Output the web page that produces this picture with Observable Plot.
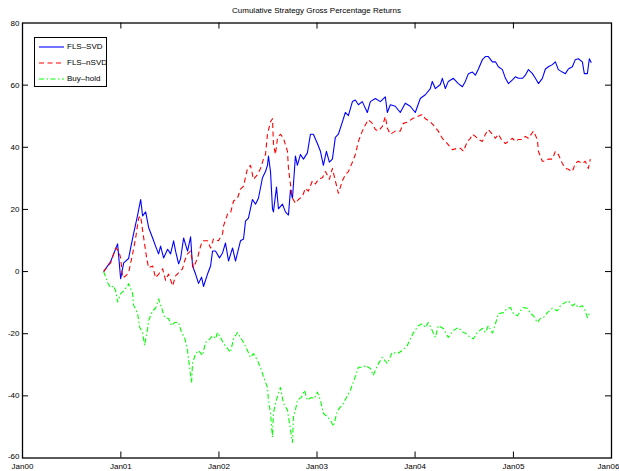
<!DOCTYPE html>
<html>
<head>
<meta charset="utf-8">
<script src="https://cdn.jsdelivr.net/npm/d3@7"></script>
<script src="https://cdn.jsdelivr.net/npm/@observablehq/plot@0.6"></script>
<style>
  body { margin: 0; background: #fff; }
  #wrap { position: relative; width: 619px; height: 471px; font-family: "Liberation Sans", Arial, sans-serif; color: #000; }
  #title { height: 21px; line-height: 21px; margin-left: 22px; width: 589px; text-align: center; font-size: 8px; white-space: nowrap; }
  #legend { position: absolute; left: 34px; top: 37px; width: 71px; height: 47px; border: 1px solid #000; background: #fff; padding-top: 1px; }
  #legend .row { height: 16px; line-height: 16px; font-size: 8px; display: flex; align-items: center; white-space: nowrap; }
  #legend svg { margin-left: 4px; margin-right: 3px; flex: none; }
</style>
</head>
<body>
<div id="wrap">
  <div id="title"></div>
  <div id="chart"></div>
  <div id="legend"></div>
</div>
<script>
// ---------- data (decimal year, cumulative % return) ----------
const titleText = "Cumulative Strategy Gross Percentage Returns";
const seriesNames = ["FLS\u2013SVD", "FLS\u2013nSVD", "Buy\u2013hold"];
const seriesColors = ["#0000ff", "#ff0000", "#00ff00"];
const seriesDashes = [null, "5,3.5", "5,2.5,1.5,2.5"];
const xTickYears = [2000, 2001, 2002, 2003, 2004, 2005, 2006];
const yTicks = [-60, -40, -20, 0, 20, 40, 60, 80];

const flsSvd = [
[2000.825,0],[2000.896,3.2],[2000.967,8.9],[2000.998,-2.3],[2001.029,2.8],[2001.079,4.2],[2001.100,7.6],
[2001.130,12.2],[2001.171,18.2],[2001.202,23.2],[2001.222,17.9],[2001.253,19.2],[2001.283,14.2],[2001.324,10.8],
[2001.354,8.2],[2001.385,5.7],[2001.405,8.2],[2001.436,4.4],[2001.477,7.2],[2001.507,5.7],[2001.538,9.9],
[2001.558,6.6],[2001.589,2.5],[2001.609,4.1],[2001.640,10.8],[2001.680,6.6],[2001.711,11.2],[2001.731,1.8],
[2001.762,-0.8],[2001.792,-3.8],[2001.823,-1.8],[2001.843,-4.8],[2001.884,-0.8],[2001.915,1.8],[2001.935,6.6],
[2001.965,6.6],[2002.006,4.4],[2002.037,6.0],[2002.067,9.2],[2002.098,3.4],[2002.139,7.6],[2002.169,3.4],
[2002.220,9.9],[2002.251,10.5],[2002.271,16.2],[2002.301,17.2],[2002.342,23.2],[2002.373,21.7],[2002.403,23.6],
[2002.444,30.2],[2002.475,32.2],[2002.495,34.2],[2002.505,37.2],[2002.526,32.2],[2002.546,20.2],[2002.556,19.2],
[2002.587,27.2],[2002.607,20.2],[2002.648,21.7],[2002.678,19.2],[2002.709,18.2],[2002.729,26.2],[2002.750,23.6],
[2002.780,37.2],[2002.800,34.2],[2002.831,37.7],[2002.862,36.2],[2002.902,38.2],[2002.933,44.2],[2002.963,44.2],
[2003.004,41.2],[2003.035,38.7],[2003.065,34.2],[2003.096,38.7],[2003.126,35.2],[2003.157,36.2],[2003.187,43.2],
[2003.218,44.2],[2003.259,48.2],[2003.289,51.2],[2003.320,50.2],[2003.361,54.7],[2003.391,55.2],[2003.422,53.7],
[2003.462,54.7],[2003.513,51.2],[2003.544,54.7],[2003.595,55.7],[2003.646,54.7],[2003.697,56.2],[2003.717,51.2],
[2003.748,53.7],[2003.798,53.2],[2003.849,51.2],[2003.900,54.2],[2003.951,53.2],[2004.002,51.2],[2004.053,55.7],
[2004.104,56.9],[2004.155,58.9],[2004.175,61.2],[2004.206,58.9],[2004.257,60.2],[2004.277,62.2],[2004.308,58.9],
[2004.338,61.2],[2004.389,62.2],[2004.440,60.5],[2004.481,59.5],[2004.511,61.2],[2004.542,63.7],[2004.583,64.2],
[2004.613,63.2],[2004.644,65.2],[2004.684,68.2],[2004.715,69.2],[2004.745,69.2],[2004.786,67.5],[2004.817,67.5],
[2004.847,65.9],[2004.888,65.0],[2004.919,62.2],[2004.949,60.5],[2004.990,61.7],[2005.020,62.7],[2005.051,62.2],
[2005.092,62.2],[2005.122,63.2],[2005.153,65.0],[2005.194,63.7],[2005.224,62.2],[2005.255,60.5],[2005.295,62.2],
[2005.326,65.2],[2005.356,65.9],[2005.397,66.6],[2005.428,67.5],[2005.458,65.0],[2005.499,64.2],[2005.530,63.7],
[2005.560,65.2],[2005.601,65.9],[2005.631,68.2],[2005.662,68.5],[2005.703,67.5],[2005.723,63.7],[2005.754,63.7],
[2005.774,68.5],[2005.794,67.2]
];

const flsNsvd = [
[2000.825,0],[2000.866,1.8],[2000.896,2.8],[2000.927,5.7],[2000.947,7.6],[2000.978,6.6],[2000.998,4.4],
[2001.018,-2.0],[2001.049,-1.4],[2001.079,-0.4],[2001.120,5.7],[2001.151,10.8],[2001.181,17.2],[2001.202,17.9],
[2001.222,13.2],[2001.242,8.9],[2001.263,4.4],[2001.283,1.2],[2001.324,1.8],[2001.354,-2.0],[2001.385,-0.8],
[2001.426,0.9],[2001.456,-2.8],[2001.487,-0.8],[2001.528,-4.6],[2001.558,-1.4],[2001.589,-0.4],[2001.629,0.9],
[2001.650,3.4],[2001.680,5.7],[2001.711,6.6],[2001.741,1.2],[2001.782,4.4],[2001.813,8.2],[2001.833,9.9],
[2001.884,9.9],[2001.915,7.6],[2001.945,10.5],[2001.996,9.9],[2002.037,12.2],[2002.047,14.7],[2002.088,18.5],
[2002.118,18.8],[2002.149,22.7],[2002.189,23.6],[2002.220,26.5],[2002.251,27.5],[2002.291,33.2],[2002.322,34.2],
[2002.352,29.7],[2002.393,31.2],[2002.424,33.2],[2002.454,36.2],[2002.475,37.7],[2002.495,44.2],[2002.526,48.2],
[2002.546,49.2],[2002.556,41.2],[2002.576,37.7],[2002.597,42.9],[2002.627,44.2],[2002.658,42.9],[2002.699,38.7],
[2002.709,33.2],[2002.729,28.2],[2002.750,23.6],[2002.780,22.0],[2002.811,23.2],[2002.851,24.2],[2002.882,26.8],
[2002.912,25.9],[2002.953,29.2],[2002.984,28.2],[2003.014,29.7],[2003.055,30.2],[2003.086,32.2],[2003.126,29.7],
[2003.157,33.2],[2003.187,29.2],[2003.218,25.2],[2003.259,29.2],[2003.289,31.2],[2003.320,32.2],[2003.361,35.2],
[2003.391,37.7],[2003.422,41.9],[2003.462,45.2],[2003.493,47.2],[2003.523,48.9],[2003.564,47.7],[2003.595,45.7],
[2003.625,45.2],[2003.666,46.7],[2003.697,49.9],[2003.717,46.2],[2003.748,44.2],[2003.798,45.2],[2003.849,45.2],
[2003.880,47.7],[2003.931,48.2],[2003.972,49.2],[2004.022,49.9],[2004.073,50.6],[2004.104,49.2],[2004.155,48.2],
[2004.185,47.2],[2004.236,45.2],[2004.277,42.9],[2004.328,41.2],[2004.379,39.2],[2004.430,39.7],[2004.460,39.7],
[2004.491,38.7],[2004.532,41.9],[2004.562,42.9],[2004.583,44.2],[2004.613,43.5],[2004.644,42.5],[2004.684,41.9],
[2004.715,44.2],[2004.745,45.7],[2004.786,44.2],[2004.817,42.9],[2004.847,44.2],[2004.888,41.9],[2004.919,41.2],
[2004.949,41.9],[2004.990,42.9],[2005.020,41.9],[2005.051,42.5],[2005.092,42.5],[2005.122,43.5],[2005.153,42.9],
[2005.204,45.2],[2005.244,42.5],[2005.255,38.7],[2005.295,35.5],[2005.326,35.5],[2005.356,36.2],[2005.397,36.2],
[2005.428,38.7],[2005.458,37.7],[2005.499,34.8],[2005.530,33.2],[2005.560,32.9],[2005.601,32.2],[2005.631,34.8],
[2005.662,35.5],[2005.703,34.8],[2005.733,35.5],[2005.764,33.2],[2005.784,36.2]
];

const buyHold = [
[2000.825,0],[2000.866,-3.6],[2000.896,-5.2],[2000.927,-4.6],[2000.947,-6.2],[2000.967,-9.8],[2000.998,-7.1],
[2001.029,-6.2],[2001.069,-4.6],[2001.079,-3.9],[2001.120,-7.1],[2001.130,-10.8],[2001.171,-13.5],[2001.191,-17.8],
[2001.222,-19.8],[2001.242,-23.8],[2001.273,-18.3],[2001.283,-15.8],[2001.324,-12.6],[2001.354,-11.8],[2001.385,-8.8],
[2001.415,-11.6],[2001.446,-14.8],[2001.487,-15.1],[2001.517,-17.4],[2001.548,-16.4],[2001.589,-16.4],[2001.619,-19.6],
[2001.650,-21.2],[2001.680,-25.4],[2001.701,-30.8],[2001.721,-35.8],[2001.731,-29.6],[2001.762,-26.4],[2001.792,-25.4],
[2001.833,-27.0],[2001.864,-22.8],[2001.894,-22.2],[2001.935,-20.6],[2001.965,-21.6],[2001.986,-19.6],[2002.016,-21.2],
[2002.047,-23.2],[2002.088,-24.8],[2002.118,-26.0],[2002.149,-21.6],[2002.189,-19.6],[2002.220,-21.2],[2002.251,-22.8],
[2002.291,-25.4],[2002.322,-27.6],[2002.352,-26.4],[2002.393,-28.6],[2002.424,-30.8],[2002.454,-33.8],[2002.495,-37.3],
[2002.505,-41.4],[2002.526,-45.6],[2002.546,-53.3],[2002.556,-45.6],[2002.576,-42.4],[2002.607,-39.2],[2002.627,-37.3],
[2002.658,-42.4],[2002.699,-44.6],[2002.729,-50.8],[2002.750,-55.0],[2002.760,-46.8],[2002.780,-44.6],[2002.800,-41.4],
[2002.841,-40.5],[2002.872,-38.2],[2002.902,-41.4],[2002.943,-40.5],[2002.974,-40.8],[2003.004,-38.8],[2003.035,-41.4],
[2003.065,-45.6],[2003.106,-46.8],[2003.137,-47.8],[2003.167,-49.8],[2003.208,-44.8],[2003.269,-42.4],[2003.340,-38.2],
[2003.391,-33.8],[2003.422,-30.8],[2003.473,-30.8],[2003.493,-30.2],[2003.544,-31.2],[2003.574,-33.4],[2003.615,-30.2],
[2003.666,-27.6],[2003.717,-29.6],[2003.768,-26.0],[2003.819,-26.4],[2003.870,-25.4],[2003.921,-23.8],[2003.951,-21.6],
[2003.982,-19.8],[2004.033,-17.4],[2004.073,-16.8],[2004.104,-18.0],[2004.134,-16.4],[2004.175,-19.0],[2004.206,-21.2],
[2004.236,-17.4],[2004.287,-18.3],[2004.338,-21.2],[2004.389,-19.0],[2004.440,-18.0],[2004.491,-19.6],[2004.511,-19.8],
[2004.562,-21.2],[2004.593,-21.6],[2004.633,-19.6],[2004.684,-18.3],[2004.715,-19.6],[2004.745,-17.4],[2004.786,-19.8],
[2004.817,-16.8],[2004.847,-13.5],[2004.898,-13.2],[2004.939,-11.8],[2004.970,-11.6],[2005.000,-13.5],[2005.041,-14.2],
[2005.071,-12.6],[2005.102,-11.6],[2005.143,-11.8],[2005.173,-13.5],[2005.204,-14.2],[2005.244,-16.4],[2005.275,-15.1],
[2005.306,-14.8],[2005.346,-13.2],[2005.397,-11.8],[2005.448,-12.6],[2005.479,-11.0],[2005.509,-10.3],[2005.560,-9.4],
[2005.601,-11.0],[2005.631,-10.3],[2005.662,-11.6],[2005.703,-11.0],[2005.733,-12.6],[2005.754,-14.8],[2005.774,-13.5]
];

// ---------- helpers ----------
function toDate(t) {
  const y = Math.floor(t);
  const a = Date.UTC(y, 0, 1), b = Date.UTC(y + 1, 0, 1);
  return new Date(a + (t - y) * (b - a));
}
const allSeries = [flsSvd, flsNsvd, buyHold].map((s, i) =>
  s.map(([t, v]) => ({date: toDate(t), value: v, name: seriesNames[i]})));
const xTicks = xTickYears.map(y => new Date(Date.UTC(y, 0, 1)));

// ---------- layout ----------
const W = 619, H = 450;
const mL = 22, mR = 8, mT = 1.5, mB = 13.5;
const innerW = W - mL - mR, innerH = H - mT - mB;
const tickLen = 6;
const fontFam = '"Liberation Sans", Arial, sans-serif';
const fmtX = d3.utcFormat("Jan%y");
const fmtY = d => String(d);

document.getElementById("title").textContent = titleText;

const chart = Plot.plot({
  width: W, height: H,
  marginLeft: mL, marginRight: mR, marginTop: mT, marginBottom: mB,
  style: {fontFamily: fontFam, fontSize: "8px", overflow: "visible", background: "transparent", color: "#000"},
  x: {type: "utc", domain: [xTicks[0], xTicks[xTicks.length - 1]]},
  y: {domain: [-60, 80]},
  marks: [
    ...allSeries.map((d, i) => Plot.line(d, {
      x: "date", y: "value",
      stroke: seriesColors[i], strokeWidth: 1.1,
      strokeDasharray: seriesDashes[i] || undefined,
      strokeLinejoin: "round", strokeLinecap: "butt"
    })),
    Plot.frame({stroke: "#000", strokeWidth: 1.3}),
    Plot.tickX(xTicks.slice(1, -1), {x: d => d, insetTop: innerH - tickLen, stroke: "#000"}),
    Plot.tickX(xTicks.slice(1, -1), {x: d => d, insetBottom: innerH - tickLen, stroke: "#000"}),
    Plot.tickY(yTicks.slice(1, -1), {y: d => d, insetRight: innerW - tickLen, stroke: "#000"}),
    Plot.tickY(yTicks.slice(1, -1), {y: d => d, insetLeft: innerW - tickLen, stroke: "#000"}),
    Plot.axisX(xTicks.slice(0, -1), {tickSize: 0, tickPadding: 5, tickFormat: fmtX, label: null, fill: "#000"}),
    Plot.axisX(xTicks.slice(-1), {tickSize: 0, tickPadding: 5, tickFormat: fmtX, label: null, fill: "#000", dx: -3}),
    Plot.axisY(yTicks.slice(1), {tickSize: 0, tickPadding: 3, tickFormat: fmtY, label: null, fill: "#000"}),
    Plot.axisY(yTicks.slice(0, 1), {tickSize: 0, tickPadding: 3, tickFormat: fmtY, label: null, fill: "#000", dy: -1.5})
  ]
});
document.getElementById("chart").appendChild(chart);

// ---------- legend ----------
const legend = document.getElementById("legend");
seriesNames.forEach((name, i) => {
  const row = document.createElement("div");
  row.className = "row";
  const dash = seriesDashes[i] ? ` stroke-dasharray="${seriesDashes[i]}"` : "";
  row.innerHTML = `<svg width="25" height="6"><line x1="0" y1="3" x2="25" y2="3" stroke="${seriesColors[i]}" stroke-width="1.1"${dash}/></svg><span>${name}</span>`;
  legend.appendChild(row);
});
</script>
</body>
</html>
